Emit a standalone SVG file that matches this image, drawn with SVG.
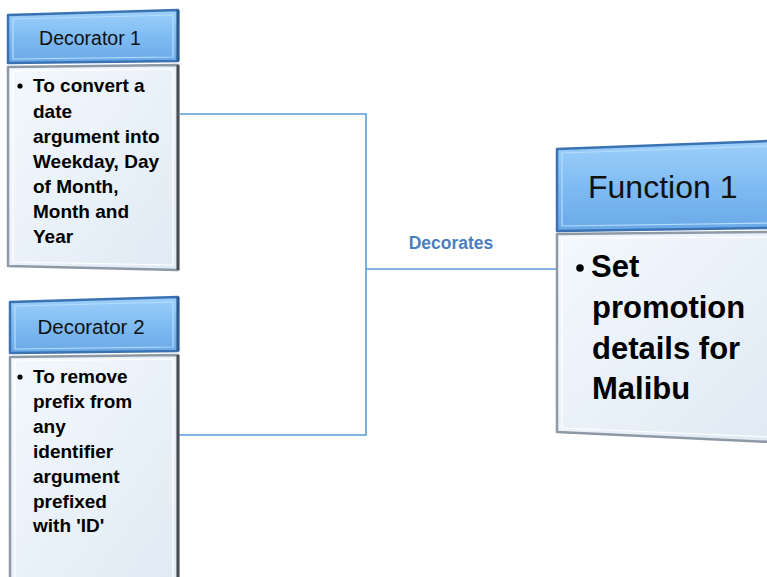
<svg xmlns="http://www.w3.org/2000/svg" width="767" height="577" viewBox="0 0 767 577">
<defs>
<linearGradient id="hdr" x1="0" y1="0" x2="0" y2="1">
<stop offset="0" stop-color="#9dd0fb"/>
<stop offset="0.5" stop-color="#7fbbf2"/>
<stop offset="1" stop-color="#6aa9e8"/>
</linearGradient>
<linearGradient id="bdy" x1="0" y1="0" x2="1" y2="1">
<stop offset="0" stop-color="#f3f8fd"/>
<stop offset="1" stop-color="#e0eaf4"/>
</linearGradient>
<style>
.hdr{fill:url(#hdr);stroke:#3a72b3;stroke-width:2.5;stroke-linejoin:round}
.hdrIn{fill:none;stroke:#b5dcfa;stroke-width:1.2}
.bdy{fill:url(#bdy);stroke:#8e99a6;stroke-width:2.5;stroke-linejoin:round}
.bdyIn{fill:none;stroke:#ffffff;stroke-width:1.2}
.shade{fill:none;stroke:#474c55;stroke-width:3}
.shadeB{fill:none;stroke:#2d5a8c;stroke-width:3}
.ht{font-family:"Liberation Sans",Arial,sans-serif;fill:#111;}
.bt{font-family:"Liberation Sans",Arial,sans-serif;font-weight:bold;fill:#000;}
.conn{fill:none;stroke:#5b9bd5;stroke-width:1.6}
.lbl{font-family:"Liberation Sans",Arial,sans-serif;font-weight:bold;font-size:17.5px;fill:#4a7fbf}
</style>
</defs>
<rect width="767" height="577" fill="#ffffff"/>

<g id="connectors">
<polyline class="conn" points="180,114 366,114 366,435 175,435"/>
<line class="conn" x1="366" y1="269" x2="557" y2="269"/>
<text class="lbl" x="451" y="249" text-anchor="middle">Decorates</text>
</g>

<g id="decorator1">
<polygon class="hdr" points="8,15 178,10 178,61 8,63"/>
<polygon class="hdrIn" points="13,19 173,15 173,57 13,59"/>
<line class="shadeB" x1="178" y1="10" x2="178" y2="61"/>
<text class="ht" x="90" y="45" font-size="19.5" text-anchor="middle">Decorator 1</text>
<polygon class="bdy" points="8,67 178,65 178,270 8,266"/>
<polygon class="bdyIn" points="13,71 173,69 173,265 13,262"/>
<line class="shade" x1="178" y1="65" x2="178" y2="270"/>
<g class="bt" font-size="19">
<circle cx="20" cy="86" r="2.6" fill="#000"/>
<text x="33" y="92">To convert a</text>
<text x="33" y="118">date</text>
<text x="33" y="143">argument into</text>
<text x="33" y="168">Weekday, Day</text>
<text x="33" y="193">of Month,</text>
<text x="33" y="218">Month and</text>
<text x="33" y="243">Year</text>
</g>
</g>

<g id="decorator2">
<polygon class="hdr" points="10,302 178,297 178,351 10,353"/>
<polygon class="hdrIn" points="15,306 173,302 173,347 15,349"/>
<line class="shadeB" x1="178" y1="297" x2="178" y2="351"/>
<text class="ht" x="91" y="334" font-size="20.5" text-anchor="middle">Decorator 2</text>
<polygon class="bdy" points="10,357 178,355 178,582 10,582"/>
<polygon class="bdyIn" points="15,361 173,359 173,582 15,582"/>
<line class="shade" x1="178" y1="355" x2="178" y2="582"/>
<g class="bt" font-size="19">
<circle cx="20" cy="377" r="2.6" fill="#000"/>
<text x="33" y="383">To remove</text>
<text x="33" y="408">prefix from</text>
<text x="33" y="433">any</text>
<text x="33" y="458">identifier</text>
<text x="33" y="483">argument</text>
<text x="33" y="508">prefixed</text>
<text x="33" y="532">with 'ID'</text>
</g>
</g>

<g id="function1">
<polygon class="hdr" points="557,149 770,141 770,228 557,231"/>
<polygon class="hdrIn" points="562,153 770,146 770,223 562,226"/>
<text class="ht" x="588" y="198" font-size="32">Function 1</text>
<polygon class="bdy" points="557,234 770,232 770,442 557,432"/>
<polygon class="bdyIn" points="562,238 770,237 770,437 562,428"/>
<g class="bt" font-size="31">
<circle cx="580" cy="268" r="3.8" fill="#000"/>
<text x="591" y="277">Set</text>
<text x="592" y="318">promotion</text>
<text x="592" y="359">details for</text>
<text x="592" y="399">Malibu</text>
</g>
</g>
</svg>
